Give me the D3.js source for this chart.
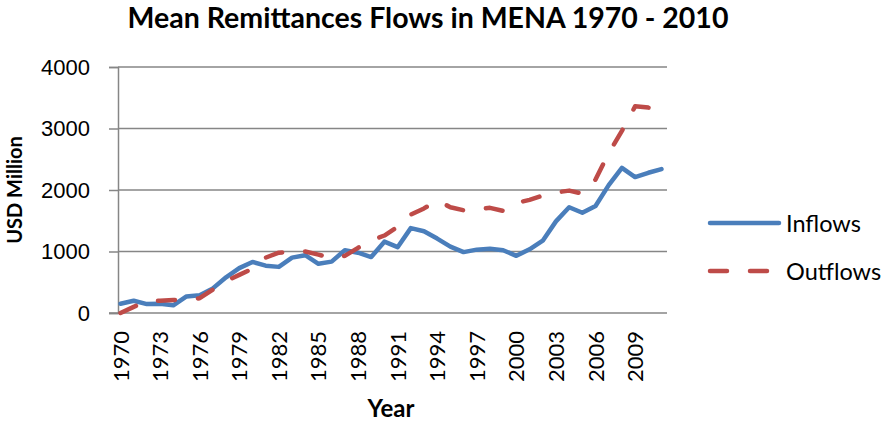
<!DOCTYPE html>
<html>
<head>
<meta charset="utf-8">
<script src="https://cdn.jsdelivr.net/npm/d3@7"></script>
<style>
    body { margin: 0; background: #fff; }
    svg { display: block; font-family: Lato, 'Open Sans', sans-serif; }
</style>
</head>
<body>
<svg id="chart" width="883" height="423"></svg>
<script>
const years = d3.range(1970, 2012);
const yearLabels = [1970, 1973, 1976, 1979, 1982, 1985, 1988, 1991, 1994, 1997, 2000, 2003, 2006, 2009];
const yTicks = [0, 1000, 2000, 3000, 4000];
const inflows = [150, 200, 145, 150, 125, 270, 290, 400, 580, 730,
    830, 770, 750, 900, 940, 800, 835, 1020, 980, 910,
    1160, 1070, 1380, 1330, 1210, 1080, 990, 1030, 1045, 1020,
    930, 1035, 1175, 1490, 1720, 1630, 1740, 2080, 2360, 2210,
    2280, 2340];
const outflows = [0, 100, 190, 200, 210, 220, 240, 380, 520, 620,
    720, 900, 980, 1000, 1000, 950, 890, 930, 1060, 1180,
    1260, 1400, 1600, 1700, 1830, 1720, 1670, 1690, 1710, 1660,
    1790, 1840, 1910, 1960, 1990, 1940, 2170, 2600, 2960, 3360,
    3340, 3310];
const seriesNames = ['Inflows', 'Outflows'];

class Chart {
    constructor() {
        this.svg = d3.select('#chart');
        this.plot = { left: 118, right: 667, top: 67, bottom: 313 };
        this.draw();
    }
    draw() {
        const svg = this.svg;
        const p = this.plot;
        const grey = '#868686';
        const xScale = d3.scalePoint().domain(years).range([120.5, 661.5]);
        const yScale = d3.scaleLinear().domain([0, 4000]).range([p.bottom, p.top]);
        const colors = d3.scaleOrdinal().domain(seriesNames).range(['#4a7ebb', '#be4b48']);

        svg.append('text')
            .attr('x', 428)
            .attr('y', 28)
            .attr('text-anchor', 'middle')
            .attr('font-size', 28.5)
            .attr('font-weight', 'bold')
            .text('Mean Remittances Flows in MENA 1970 - 2010');

        // gridlines
        svg.append('g')
            .selectAll('line')
            .data(yTicks.filter(d => d > 0))
            .enter()
            .append('line')
            .attr('x1', p.left)
            .attr('x2', p.right)
            .attr('y1', d => yScale(d))
            .attr('y2', d => yScale(d))
            .attr('stroke', grey)
            .attr('stroke-width', 1.5);

        const yAxis = svg.append('g')
            .attr('transform', `translate(${p.left}, 0)`)
            .call(d3.axisLeft(yScale).tickValues(yTicks).tickSize(9).tickPadding(19).tickFormat(d3.format('d')));
        yAxis.select('.domain').attr('stroke', grey).attr('stroke-width', 1.5);
        yAxis.selectAll('.tick line').attr('stroke', grey).attr('stroke-width', 1.5);
        yAxis.selectAll('text').attr('font-size', 22).attr('font-family', null).attr('fill', '#000');

        svg.append('line')
            .attr('x1', p.left - 9)
            .attr('x2', p.right)
            .attr('y1', p.bottom)
            .attr('y2', p.bottom)
            .attr('stroke', grey)
            .attr('stroke-width', 1.5);

        svg.append('g')
            .selectAll('text')
            .data(yearLabels)
            .enter()
            .append('text')
            .attr('transform', d => `translate(${xScale(d) + 8}, 331) rotate(-90)`)
            .attr('text-anchor', 'end')
            .attr('font-size', 22)
            .text(d => d);

        svg.append('text')
            .attr('transform', 'translate(22, 190) rotate(-90)')
            .attr('text-anchor', 'middle')
            .attr('font-size', 20)
            .attr('font-weight', 'bold')
            .text('USD Million');

        svg.append('text')
            .attr('x', 391)
            .attr('y', 417)
            .attr('text-anchor', 'middle')
            .attr('font-size', 24)
            .attr('font-weight', 'bold')
            .text('Year');

        const line = d3.line()
            .x(d => xScale(d.year))
            .y(d => yScale(d.value));
        const series = [
            { name: 'Inflows', values: years.map((y, i) => ({ year: y, value: inflows[i] })) },
            { name: 'Outflows', values: years.map((y, i) => ({ year: y, value: outflows[i] })) }
        ];
        svg.append('g')
            .selectAll('path')
            .data(series)
            .enter()
            .append('path')
            .attr('d', d => line(d.values))
            .attr('fill', 'none')
            .attr('stroke', d => colors(d.name))
            .attr('stroke-width', 4.5)
            .attr('stroke-linejoin', 'round')
            .attr('stroke-linecap', 'round')
            .attr('stroke-dasharray', d => d.name === 'Outflows' ? '17,23' : null);

        const legend = svg.append('g')
            .selectAll('g')
            .data(seriesNames)
            .enter()
            .append('g')
            .attr('transform', (d, i) => `translate(0, ${223 + i * 48})`);
        legend.append('line')
            .attr('x1', 710)
            .attr('x2', 779)
            .attr('stroke', d => colors(d))
            .attr('stroke-width', 4.5)
            .attr('stroke-linecap', 'round')
            .attr('stroke-dasharray', d => d === 'Outflows' ? '17,23' : null);
        legend.append('text')
            .attr('x', 786)
            .attr('y', 8.5)
            .attr('font-size', 23.5)
            .text(d => d);
    }
}

new Chart();
</script>
</body>
</html>
